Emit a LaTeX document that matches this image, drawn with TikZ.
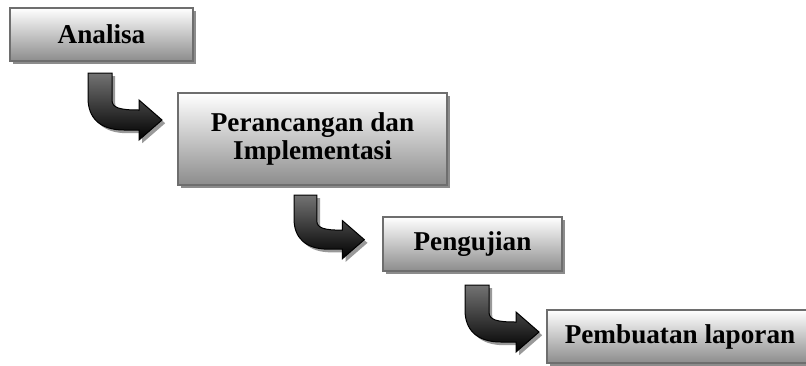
\documentclass[tikz,border=0pt]{standalone}
\usepackage{fontspec}
\setmainfont{Liberation Serif}
\usetikzlibrary{shadows}

\begin{document}
\begin{tikzpicture}[x=0.5pt,y=-0.5pt]
%			\useasboundingbox[draw] (0,0) rectangle (806,365);
			\tikzset{
			  StageStyle/.style = { draw = black!57, line width = 1pt,
			                        top color = white, bottom color = black!45,
			                        inner sep = 0pt, align = center,
			                        font = \fontsize{13.6}{13.8}\selectfont\bfseries,
			                        drop shadow = {shadow xshift = 1.5pt, shadow yshift = -1.5pt,
			                                       fill = black!45, opacity = 1} },
			  pics/bendarrow/.style = { code = {
			    \shade[draw = black, line width = 0.5pt,
			           top color = black!55, bottom color = black,
			           drop shadow = {shadow xshift = 1.6pt, shadow yshift = -1.6pt,
			                          fill = black!40, opacity = 1}]
			      (0,0) -- (24,0) -- (24,27) .. controls (24,35) and (32,37) .. (51,37)
			      -- (51,27) -- (74,47) -- (51,67) -- (51,57) -- (36,57)
			      .. controls (12,57) and (0,45) .. (0,25) -- cycle;
			  }} }
			\useasboundingbox (0,0) rectangle (806,365);
			\node[StageStyle, minimum width = 91.5pt, minimum height = 26.5pt]
			  (analisa) at (101.5,34.5) {Analisa};
			\node[StageStyle, minimum width = 134.5pt, minimum height = 46pt]
			  (rancang) at (312.5,139) {Perancangan dan\\Implementasi};
			\node[StageStyle, minimum width = 89.5pt, minimum height = 27pt]
			  (uji) at (472.5,244) {Pengujian};
			\node[StageStyle, minimum width = 133pt, minimum height = 26.5pt]
			  (laporan) at (680,336.5) {Pembuatan laporan};
			% bent arrows between the stages
			\pic at (88,73) {bendarrow};
			\pic[scale = 0.95] at (294,195) {bendarrow};
			\pic at (465,285) {bendarrow};
\end{tikzpicture}
\end{document}
